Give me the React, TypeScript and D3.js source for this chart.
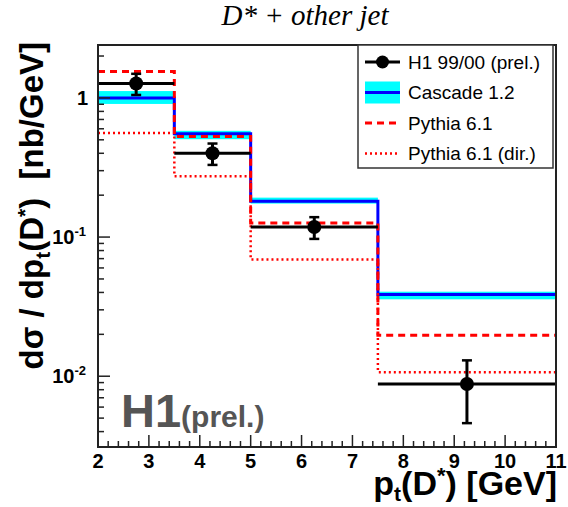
import React, { useEffect, useRef } from 'react';
import * as d3 from 'd3';

// bins in pt(D*) [GeV]
const binEdges = [2, 3.5, 5, 7.5, 11];
const binCenters = [2.75, 4.25, 6.25, 9.25];

// H1 99/00 (prel.) data points
const h1Values = [1.27, 0.4, 0.118, 0.0088];
const h1Errors = [0.22, 0.07, 0.021, 0.0042];

// Cascade 1.2 (central line + uncertainty band)
const cascadeValues = [1.0, 0.552, 0.181, 0.0387];
const cascadeLow = [0.905, 0.505, 0.174, 0.0357];
const cascadeHigh = [1.12, 0.58, 0.192, 0.0405];

// Pythia 6.1 and Pythia 6.1 (dir.)
const pythiaValues = [1.55, 0.528, 0.126, 0.0197];
const pythiaDirValues = [0.56, 0.273, 0.069, 0.0107];

const xTicks = [2, 3, 4, 5, 6, 7, 8, 9, 10, 11];
const yMajorTicks = [1, 0.1, 0.01];

const legendItems = ['H1 99/00 (prel.)', 'Cascade 1.2', 'Pythia 6.1', 'Pythia 6.1 (dir.)'];

const W = 568;
const H = 507;
const SANS = '"Liberation Sans", Arial, sans-serif';

const App = () => {
  const svgRef = useRef<SVGSVGElement>(null);

  useEffect(() => {
    const svg = d3.select(svgRef.current);
    svg.selectAll('*').remove();

    const frame = { left: 98, right: 556, top: 45, bottom: 447 };

    const x = d3.scaleLinear().domain([2, 11]).range([frame.left, frame.right]);
    const y = d3.scaleLog().domain([0.0031, 2.4]).range([frame.bottom, frame.top]);

    svg.append('rect').attr('width', W).attr('height', H).attr('fill', 'white');

    svg.append('clipPath').attr('id', 'frame-clip')
      .append('rect')
      .attr('x', frame.left).attr('y', frame.top)
      .attr('width', frame.right - frame.left).attr('height', frame.bottom - frame.top);

    const plot = svg.append('g').attr('clip-path', 'url(#frame-clip)');

    // step line helper: last bin repeated to close at x=11
    const stepLine = (vals: number[]) => {
      const pts: [number, number][] = binEdges.map((e, i) => [e, vals[Math.min(i, vals.length - 1)]]);
      return d3.line<[number, number]>()
        .x(d => x(d[0]))
        .y(d => y(d[1]))
        .curve(d3.curveStepAfter)(pts);
    };

    // Cascade band
    plot.selectAll('.band')
      .data(cascadeValues)
      .enter()
      .append('rect')
      .attr('x', (d, i) => x(binEdges[i]))
      .attr('width', (d, i) => x(binEdges[i + 1]) - x(binEdges[i]))
      .attr('y', (d, i) => y(cascadeHigh[i]))
      .attr('height', (d, i) => y(cascadeLow[i]) - y(cascadeHigh[i]))
      .attr('fill', '#00ffff');

    // Cascade line
    plot.append('path')
      .attr('d', stepLine(cascadeValues))
      .attr('fill', 'none')
      .attr('stroke', '#0000ff')
      .attr('stroke-width', 3);

    // Pythia lines
    plot.append('path')
      .attr('d', stepLine(pythiaValues))
      .attr('fill', 'none')
      .attr('stroke', '#ff0000')
      .attr('stroke-width', 3)
      .attr('stroke-dasharray', '7,5');

    plot.append('path')
      .attr('d', stepLine(pythiaDirValues))
      .attr('fill', 'none')
      .attr('stroke', '#ff0000')
      .attr('stroke-width', 2.5)
      .attr('stroke-dasharray', '2,3');

    // H1 data
    const pts = plot.selectAll('.pt')
      .data(h1Values)
      .enter()
      .append('g');

    pts.append('line')
      .attr('x1', (d, i) => x(binEdges[i]))
      .attr('x2', (d, i) => x(binEdges[i + 1]))
      .attr('y1', d => y(d))
      .attr('y2', d => y(d))
      .attr('stroke', 'black')
      .attr('stroke-width', 3);

    pts.append('line')
      .attr('x1', (d, i) => x(binCenters[i]))
      .attr('x2', (d, i) => x(binCenters[i]))
      .attr('y1', (d, i) => y(d + h1Errors[i]))
      .attr('y2', (d, i) => y(d - h1Errors[i]))
      .attr('stroke', 'black')
      .attr('stroke-width', 3);

    [1, -1].forEach(s => {
      pts.append('line')
        .attr('x1', (d, i) => x(binCenters[i]) - 5)
        .attr('x2', (d, i) => x(binCenters[i]) + 5)
        .attr('y1', (d, i) => y(d + s * h1Errors[i]))
        .attr('y2', (d, i) => y(d + s * h1Errors[i]))
        .attr('stroke', 'black')
        .attr('stroke-width', 2.5);
    });

    pts.append('circle')
      .attr('cx', (d, i) => x(binCenters[i]))
      .attr('cy', d => y(d))
      .attr('r', 7)
      .attr('fill', 'black');

    // H1(prel.) label
    const h1Label = svg.append('text')
      .attr('x', 121).attr('y', 427)
      .attr('font-family', SANS).attr('font-weight', 'bold')
      .attr('fill', '#555555');
    h1Label.append('tspan').attr('font-size', 47).text('H1');
    h1Label.append('tspan').attr('font-size', 30).text('(prel.)');

    // frame
    svg.append('rect')
      .attr('x', frame.left).attr('y', frame.top)
      .attr('width', frame.right - frame.left).attr('height', frame.bottom - frame.top)
      .attr('fill', 'none').attr('stroke', '#222').attr('stroke-width', 2);

    // x ticks
    const xMinor = d3.range(2, 11.001, 0.2);
    svg.append('g').selectAll('line')
      .data(xMinor)
      .enter()
      .append('line')
      .attr('x1', d => x(d)).attr('x2', d => x(d))
      .attr('y1', frame.bottom)
      .attr('y2', d => frame.bottom - (Math.abs(d - Math.round(d)) < 1e-6 ? 12 : 6))
      .attr('stroke', '#222').attr('stroke-width', 1.5);

    svg.append('g').selectAll('text')
      .data(xTicks)
      .enter()
      .append('text')
      .attr('x', d => x(d))
      .attr('y', 468)
      .attr('text-anchor', 'middle')
      .attr('font-family', SANS).attr('font-weight', 'bold').attr('font-size', 20)
      .text(d => d);

    // y ticks
    const yMinor: number[] = [];
    [0.001, 0.01, 0.1, 1].forEach(dec => {
      for (let k = 1; k <= 9; k++) {
        const v = dec * k;
        if (v >= 0.0031 && v <= 2.4) yMinor.push(v);
      }
    });
    svg.append('g').selectAll('line')
      .data(yMinor)
      .enter()
      .append('line')
      .attr('y1', d => y(d)).attr('y2', d => y(d))
      .attr('x1', frame.left)
      .attr('x2', d => frame.left + (yMajorTicks.some(m => Math.abs(m - d) / m < 1e-6) ? 12 : 6))
      .attr('stroke', '#222').attr('stroke-width', 1.5);

    const yl = svg.append('g')
      .attr('font-family', SANS).attr('font-weight', 'bold');
    yl.append('text')
      .attr('x', 88).attr('y', y(1) + 7)
      .attr('text-anchor', 'end').attr('font-size', 20)
      .text('1');
    [0.1, 0.01].forEach((v, i) => {
      const t = yl.append('text')
        .attr('x', 86).attr('y', y(v) + 7)
        .attr('text-anchor', 'end').attr('font-size', 20);
      t.append('tspan').text('10');
      t.append('tspan').attr('font-size', 13).attr('dy', -8).text(`-${i + 1}`);
    });

    // axis titles
    const yTitle = svg.append('text')
      .attr('transform', 'translate(43,42) rotate(-90)')
      .attr('text-anchor', 'end')
      .attr('font-family', SANS).attr('font-weight', 'bold').attr('font-size', 33)
      .attr('xml:space', 'preserve');
    yTitle.append('tspan').text('d\u03c3 / dp');
    yTitle.append('tspan').attr('font-size', 21).attr('dy', 7).text('t');
    yTitle.append('tspan').attr('dy', -7).text('(D');
    yTitle.append('tspan').attr('font-size', 21).attr('dy', -11).text('*');
    yTitle.append('tspan').attr('dy', 11).text(')  [nb/GeV]');

    const xTitle = svg.append('text')
      .attr('x', 557).attr('y', 495)
      .attr('text-anchor', 'end')
      .attr('font-family', SANS).attr('font-weight', 'bold').attr('font-size', 34);
    xTitle.append('tspan').text('p');
    xTitle.append('tspan').attr('font-size', 21).attr('dy', 6).text('t');
    xTitle.append('tspan').attr('dy', -6).text('(D');
    xTitle.append('tspan').attr('font-size', 22).attr('dy', -12).text('*');
    xTitle.append('tspan').attr('dy', 12).text(') [GeV]');

    // title
    svg.append('text')
      .attr('x', 305).attr('y', 25)
      .attr('text-anchor', 'middle')
      .attr('font-family', '"Liberation Serif", "Times New Roman", serif')
      .attr('font-style', 'italic').attr('font-size', 29)
      .text('D* + other jet');

    // legend
    const lg = svg.append('g');
    lg.append('rect')
      .attr('x', 358).attr('y', 45).attr('width', 195).attr('height', 123)
      .attr('fill', 'white').attr('stroke', '#333').attr('stroke-width', 1.5);

    const rowY = (i: number) => 62 + i * 30.5;
    const sx1 = 365;
    const sx2 = 400;

    // H1 symbol
    lg.append('line').attr('x1', sx1).attr('x2', sx2).attr('y1', rowY(0)).attr('y2', rowY(0))
      .attr('stroke', 'black').attr('stroke-width', 3);
    lg.append('circle').attr('cx', (sx1 + sx2) / 2).attr('cy', rowY(0)).attr('r', 6.5).attr('fill', 'black');
    // Cascade symbol
    lg.append('rect').attr('x', sx1).attr('y', rowY(1) - 11).attr('width', sx2 - sx1).attr('height', 22)
      .attr('fill', '#00ffff');
    lg.append('line').attr('x1', sx1).attr('x2', sx2).attr('y1', rowY(1)).attr('y2', rowY(1))
      .attr('stroke', '#0000ff').attr('stroke-width', 3);
    // Pythia symbols
    lg.append('line').attr('x1', sx1).attr('x2', sx2).attr('y1', rowY(2)).attr('y2', rowY(2))
      .attr('stroke', '#ff0000').attr('stroke-width', 3).attr('stroke-dasharray', '7,5');
    lg.append('line').attr('x1', sx1).attr('x2', sx2).attr('y1', rowY(3)).attr('y2', rowY(3))
      .attr('stroke', '#ff0000').attr('stroke-width', 2.5).attr('stroke-dasharray', '2,3');

    lg.selectAll('.lt')
      .data(legendItems)
      .enter()
      .append('text')
      .attr('x', 408)
      .attr('y', (d, i) => rowY(i) + 6.5)
      .attr('font-family', SANS).attr('font-size', 19)
      .text(d => d);
  }, []);

  return (
    <svg ref={svgRef} width={W} height={H} style={{ position: 'absolute', left: 0, top: 0 }} />
  );
};

export default App;
